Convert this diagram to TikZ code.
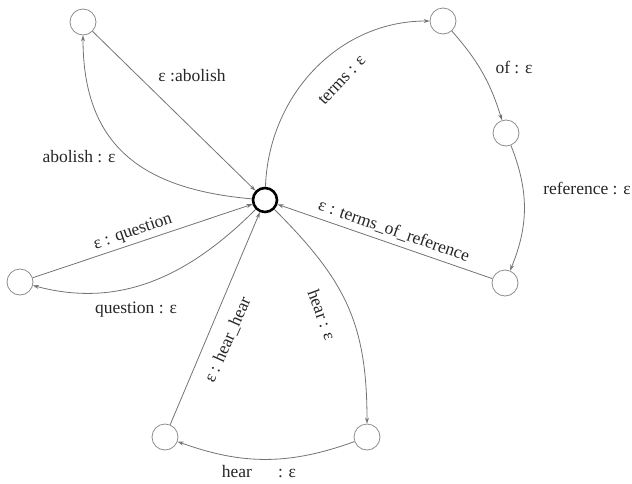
\documentclass[tikz,border=0pt]{standalone}
\usepackage{fontspec}
\setmainfont{Liberation Serif}
\usepackage{tikz}
\usetikzlibrary{arrows.meta}
\tikzset{
  st/.style={circle, draw=black!45, line width=0.8pt,
             minimum size=#1, inner sep=0pt},
  st/.default=26pt,
  init/.style={circle, draw=black, line width=2.6pt,
               minimum size=24pt, inner sep=0pt},
  trans/.style={draw=black!55, line width=0.8pt,
                -{Stealth[length=6pt,width=4pt]}},
  lbl/.style={font=\fontsize{17.5}{20}\selectfont, text=black!85, inner sep=1pt},
}

\begin{document}
\begin{tikzpicture}[x=1pt, y=-1pt]
  \useasboundingbox (0,0) rectangle (632,483);
  \node[init] (c) at (265,200) {};
  \foreach \nm/\x/\y in {ab/83/22, tm1/443/21, tm2/506/133, tm3/505/283,
                         qu/20/282, hr1/165/437, hr2/367/437}
    \node[st] (\nm) at (\x,\y) {};

  % abolish
  \draw[trans] (c) to[out=175, in=270, looseness=1.2] (ab);
  \draw[trans] (ab) -- (c);
  % terms of reference
  \draw[trans] (c) to[out=88, in=180] (tm1);
  \draw[trans] (tm1) to[bend left=12] (tm2);
  \draw[trans] (tm2) to[bend left=22] (tm3);
  \draw[trans] (tm3) -- (c);
  % question
  \draw[trans] (qu) -- (c);
  \draw[trans] (c) to[out=225, in=-15] (qu);
  % hear hear
  \draw[trans] (c) to[out=-45, in=90, looseness=1.1] (hr2);
  \draw[trans] (hr2) to[out=200, in=-20] (hr1);
  \draw[trans] (hr1) -- (c);

  \foreach \nm/\x/\y/\r/\t in {
      l1/192/76/0/{ε :abolish},
      l2/79/157/0/{abolish : ε},
      l3/342/80/47/{terms : ε},
      l4/514/67/0/{of : ε},
      l5/587/188/0/{reference : ε},
      l6/394/231/-19/{ε : terms\_of\_reference},
      l7/133/232/19/{ε : question},
      l8/136/310/0/{question : ε},
      l9/228/340/66/{ε : hear\_hear},
      l10/322/315/-70/{hear : ε},
      l11/259/472/0/{hear\hspace{26pt}: ε}}
    \node[lbl, rotate=\r] (\nm) at (\x,\y) {\t};
\end{tikzpicture}
\end{document}
